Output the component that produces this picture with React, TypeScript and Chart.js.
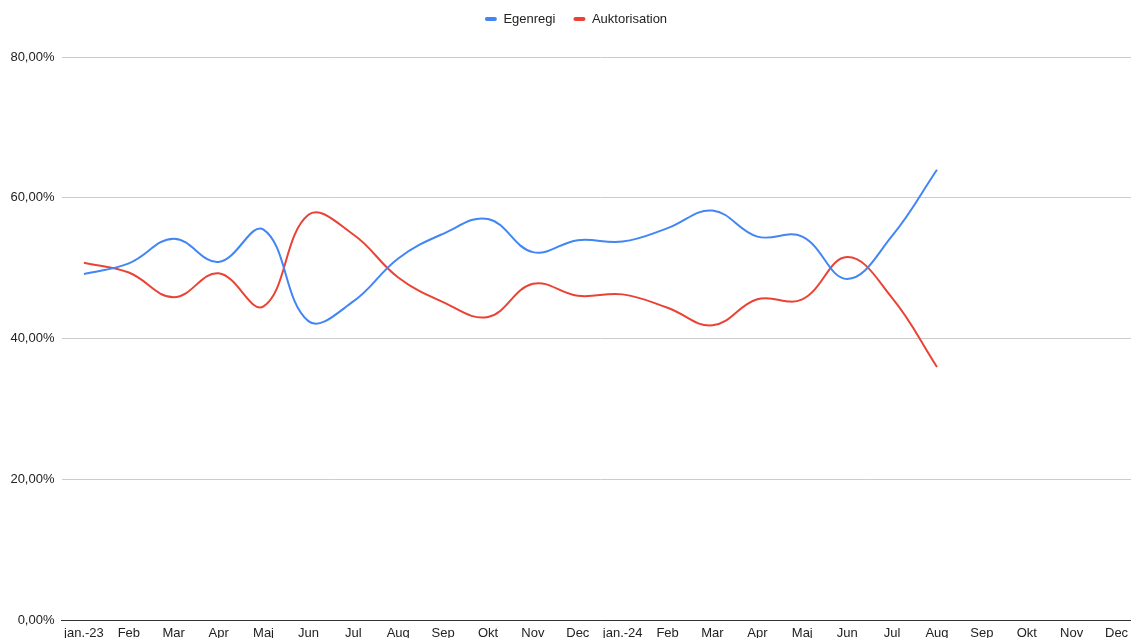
import React, { useEffect, useRef } from "react";
import { Chart, registerables } from "chart.js";

Chart.register(...registerables);

const categories = [
  "jan.-23", "Feb", "Mar", "Apr", "Maj", "Jun", "Jul", "Aug", "Sep", "Okt", "Nov", "Dec",
  "jan.-24", "Feb", "Mar", "Apr", "Maj", "Jun", "Jul", "Aug", "Sep", "Okt", "Nov", "Dec",
];

const egenregi: (number | null)[] = [
  49.2, 50.7, 54.2, 50.9, 55.5, 42.5, 45.3, 51.4, 54.9, 57.0, 52.3, 54.0,
  53.8, 55.7, 58.2, 54.5, 54.5, 48.5, 54.6, 64.0, null, null, null, null,
];

const auktorisation: (number | null)[] = [
  50.8, 49.4, 45.9, 49.3, 44.6, 57.6, 54.8, 48.7, 45.2, 43.1, 47.8, 46.1,
  46.3, 44.4, 41.9, 45.6, 45.6, 51.6, 45.8, 36.0, null, null, null, null,
];

const yTicks = [0, 20, 40, 60, 80];

const FONT = "'Liberation Sans', Arial, sans-serif";

const legendShift = {
  id: "legendShift",
  afterLayout(chart: any) {
    if (chart.legend) chart.legend.left += 12;
  },
};

export default function App() {
  const ref = useRef<HTMLCanvasElement | null>(null);

  useEffect(() => {
    document.body.style.margin = "0";
    document.body.style.overflow = "hidden";
    const canvas = ref.current;
    if (!canvas) return;
    const chart = new Chart(canvas, {
      type: "line",
      data: {
        labels: categories,
        datasets: [
          {
            label: "Egenregi",
            data: egenregi,
            borderColor: "#4285F4",
            backgroundColor: "#4285F4",
            borderWidth: 2,
            pointRadius: 0,
            tension: 0.4,
            spanGaps: false,
          },
          {
            label: "Auktorisation",
            data: auktorisation,
            borderColor: "#EA4335",
            backgroundColor: "#EA4335",
            borderWidth: 2,
            pointRadius: 0,
            tension: 0.4,
            spanGaps: false,
          },
        ],
      },
      plugins: [legendShift],
      options: {
        animation: false,
        responsive: true,
        maintainAspectRatio: false,
        layout: { padding: { top: -5.5, left: 0, right: 0, bottom: 0 } },
        plugins: {
          tooltip: { enabled: false },
          legend: {
            display: true,
            position: "top",
            align: "center",
            labels: {
              boxWidth: 12,
              boxHeight: 4,
              padding: 18,
              color: "#222",
              useBorderRadius: true,
              borderRadius: 2,
              font: { family: FONT, size: 13 },
              generateLabels: (c: any) =>
                Chart.defaults.plugins.legend.labels.generateLabels(c).map((l: any) => ({
                  ...l,
                  lineWidth: 0,
                  strokeStyle: "rgba(0,0,0,0)",
                })),
            },
          },
        },
        scales: {
          x: {
            offset: true,
            grid: { display: false, drawTicks: false },
            border: { display: true, color: "#333", width: 1 },
            ticks: {
              color: "#222",
              font: { family: FONT, size: 13 },
              padding: 5,
              maxRotation: 0,
              autoSkip: false,
            },
            afterFit: (s: any) => {
              s.height = 17.5;
            },
          },
          y: {
            min: 0,
            max: 80,
            afterBuildTicks: (s: any) => {
              s.ticks = yTicks.map((v) => ({ value: v }));
            },
            grid: {
              color: (ctx: any) => (ctx.tick && ctx.tick.value === 0 ? "#333" : "#ccc"),
              drawTicks: false,
              lineWidth: 1,
            },
            border: { display: false },
            ticks: {
              color: "#222",
              font: { family: FONT, size: 13 },
              padding: 7,
              callback: (v: any) => Number(v).toFixed(2).replace(".", ",") + "%",
            },
            afterFit: (s: any) => {
              s.width = 61.5;
            },
          },
        },
      },
    });
    const lg: any = (chart as any).legend;
    if (lg) {
      const origFit = lg.fit;
      lg.fit = function () {
        origFit.call(this);
        this.height = 62.5;
      };
      chart.update();
    }
    return () => chart.destroy();
  }, []);

  return (
    <div style={{ position: "fixed", left: 0, top: 0, width: 1131, height: 638, overflow: "hidden", background: "#fff" }}>
      <div style={{ position: "relative", width: 1140, height: 638 }}>
        <canvas ref={ref} />
      </div>
    </div>
  );
}
